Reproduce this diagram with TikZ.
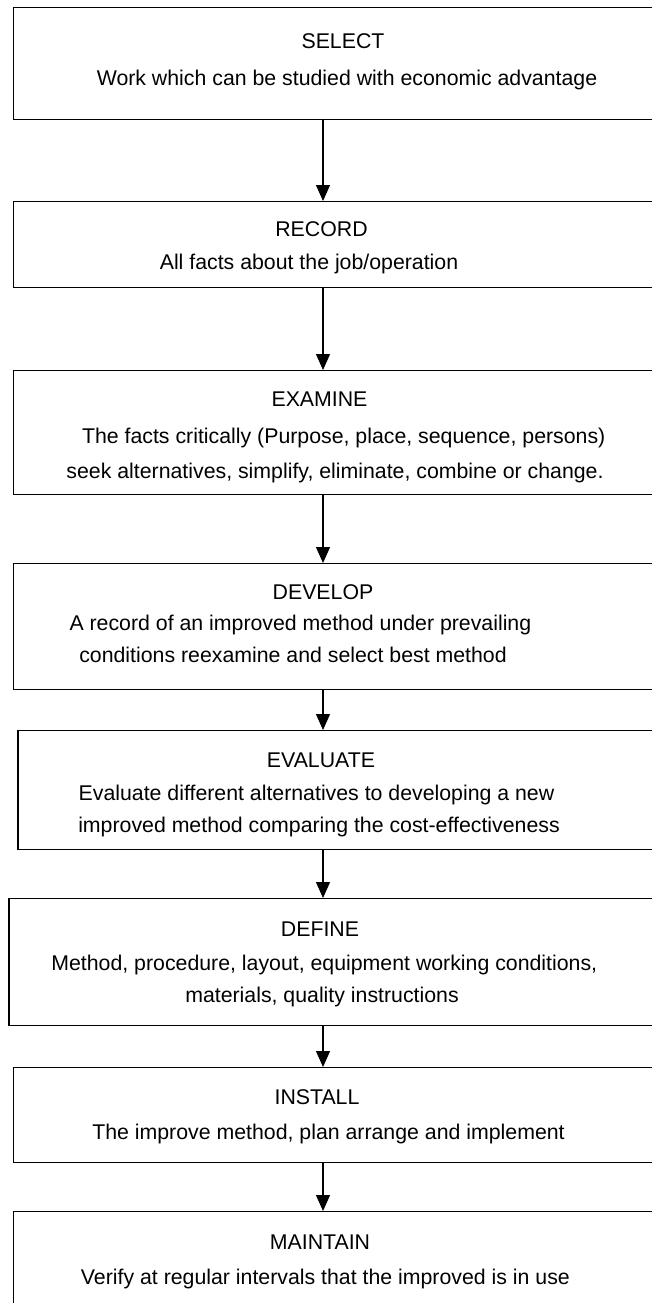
\documentclass[tikz,border=0pt]{standalone}
\usepackage{fontspec}
\setmainfont{Liberation Sans}
\usetikzlibrary{arrows.meta}
\begin{document}
\begin{tikzpicture}[x=1pt,y=-1pt,
  stagebox/.style={draw=black, line width=1.2pt, rectangle, anchor=north west,
    inner sep=0pt, minimum width=720pt},
  lbl/.style={inner sep=0pt, anchor=center, text height=15.2pt, text depth=0pt,
    font=\fontsize{21.3}{25}\selectfont, text=black},
  arr/.style={draw=black, line width=1.2pt, -{Triangle[length=16pt,width=14pt]}}]
\useasboundingbox[fill=white] (0,0) rectangle (652,1303);

% boxes
\node[stagebox, minimum height=112pt] (select)   at (12.7,7)   {};
\node[stagebox, minimum height=86pt]  (record)   at (12.7,201) {};
\node[stagebox, minimum height=124pt] (examine)  at (12.7,370) {};
\node[stagebox, minimum height=126pt] (develop)  at (12.7,563) {};
\node[stagebox, minimum height=119pt] (evaluate) at (17.3,730) {};
\node[stagebox, minimum height=127pt] (define)   at (8.3,898)  {};
\node[stagebox, minimum height=95pt]  (install)  at (12.7,1067) {};
\node[stagebox, minimum height=140pt] (maintain) at (12.7,1211) {};

% texts
\node[lbl] (t1a) at (343,40.7) {SELECT};
\node[lbl] (t1b) at (347,78) {Work which can be studied with economic advantage};
\node[lbl] (t2a) at (321.5,229) {RECORD};
\node[lbl] (t2b) at (309,262) {All facts about the job/operation};
\node[lbl] (t3a) at (319.5,399) {EXAMINE};
\node[lbl] (t3b) at (343.7,436) {The facts critically (Purpose, place, sequence, persons)};
\node[lbl] (t3c) at (335,470.7) {seek alternatives, simplify, eliminate, combine or change.};
\node[lbl] (t4a) at (323,591.7) {DEVELOP};
\node[lbl] (t4b) at (300.4,622.7) {A record of an improved method under prevailing};
\node[lbl] (t4c) at (293,655) {conditions reexamine and select best method};
\node[lbl] (t5a) at (321,760) {EVALUATE};
\node[lbl] (t5b) at (316.5,793) {Evaluate different alternatives to developing a new};
\node[lbl] (t5c) at (319,825) {improved method comparing the cost-effectiveness};
\node[lbl] (t6a) at (320,928.5) {DEFINE};
\node[lbl] (t6b) at (324.3,963) {Method, procedure, layout, equipment working conditions,};
\node[lbl] (t6c) at (322,995) {materials, quality instructions};
\node[lbl] (t7a) at (317,1096.7) {INSTALL};
\node[lbl] (t7b) at (328.5,1131.7) {The improve method, plan arrange and implement};
\node[lbl] (t8a) at (320,1241.7) {MAINTAIN};
\node[lbl] (t8b) at (325.4,1276.7) {Verify at regular intervals that the improved is in use};

% connectors
\coordinate (ax) at (323,0);
\draw[arr] (select.south -| ax)   -- (record.north -| ax);
\draw[arr] (record.south -| ax)   -- (examine.north -| ax);
\draw[arr] (examine.south -| ax)  -- (develop.north -| ax);
\draw[arr] (develop.south -| ax)  -- (evaluate.north -| ax);
\draw[arr] (evaluate.south -| ax) -- (define.north -| ax);
\draw[arr] (define.south -| ax)   -- (install.north -| ax);
\draw[arr] (install.south -| ax)  -- (maintain.north -| ax);
\end{tikzpicture}
\end{document}
